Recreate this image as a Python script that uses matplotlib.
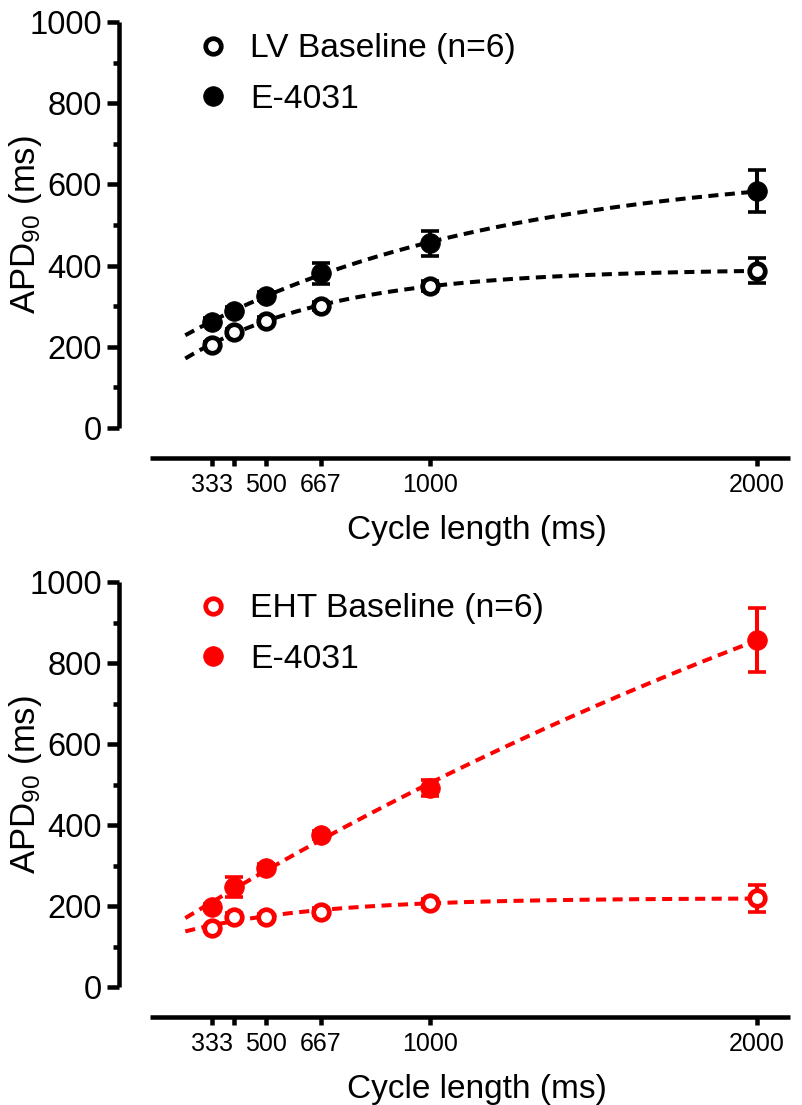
import numpy as np
import matplotlib
matplotlib.use("Agg")
import matplotlib.pyplot as plt
from matplotlib.ticker import FixedLocator, MultipleLocator

plt.rcParams["font.family"] = ["Liberation Sans", "DejaVu Sans"]
plt.rcParams["mathtext.fontset"] = "custom"
plt.rcParams["mathtext.rm"] = "Liberation Sans"
plt.rcParams["mathtext.it"] = "Liberation Sans:italic"

# Pacing cycle lengths (ms)
cycle_length = [333, 400, 500, 667, 1000, 2000]
x_tick_values = [333, 400, 500, 667, 1000, 2000]
x_tick_labels = ["333", "", "500", "667", "1000", "2000"]

# LV tissue: APD90 mean and SEM (ms)
lv_base_mean = [204, 237, 264, 300, 350, 387]
lv_base_sem = [8, 8, 9, 10, 12, 31]
lv_e4031_mean = [262, 289, 325, 381, 455, 583]
lv_e4031_sem = [8, 9, 10, 26, 31, 52]

# EHT: APD90 mean and SEM (ms)
eht_base_mean = [145, 174, 174, 186, 207, 219]
eht_base_sem = [6, 8, 7, 8, 10, 33]
eht_e4031_mean = [198, 246, 293, 375, 492, 857]
eht_e4031_sem = [8, 25, 10, 10, 20, 80]

panels = [
    dict(base=lv_base_mean, base_err=lv_base_sem,
         drug=lv_e4031_mean, drug_err=lv_e4031_sem,
         color="black", base_label="LV Baseline (n=6)", drug_label="E-4031"),
    dict(base=eht_base_mean, base_err=eht_base_sem,
         drug=eht_e4031_mean, drug_err=eht_e4031_sem,
         color="#ff0000", base_label="EHT Baseline (n=6)", drug_label="E-4031"),
]


def exp_association_fit(x, y):
    """Least-squares fit of y = a + b*exp(-k*x); k found by grid search."""
    x = np.asarray(x, float)
    y = np.asarray(y, float)
    best = None
    for k in np.logspace(-5.5, -1.5, 3000):
        e = np.exp(-k * x)
        A = np.column_stack([np.ones_like(x), e])
        coef = np.linalg.lstsq(A, y, rcond=None)[0]
        sse = float(((A @ coef - y) ** 2).sum())
        if best is None or sse < best[0]:
            best = (sse, k, coef)
    _, k, (a, b) = best
    return lambda xx: a + b * np.exp(-k * xx)


W, H, DPI = 802, 1105, 100
fig = plt.figure(figsize=(W / DPI, H / DPI), dpi=DPI)

# axes boxes in pixels: (left, right, top(y=1000), bottom(y=0))
boxes = [(150, 790, 22, 428), (150, 790, 582, 987)]

lw_axis = 3.25
for (l, r, t, b), p in zip(boxes, panels):
    ax = fig.add_axes([l / W, 1 - b / H, (r - l) / W, (b - t) / H])
    col = p["color"]
    x = np.asarray(cycle_length, float)

    xs = np.linspace(252, 2000, 300)
    for key in ("base", "drug"):
        f = exp_association_fit(x, p[key])
        ax.plot(xs, f(xs), color=col, lw=2.9, dashes=(2.5, 1.6), zorder=2)

    ax.errorbar(x, p["drug"], yerr=p["drug_err"], fmt="none", ecolor=col,
                elinewidth=2.9, capsize=6.8, capthick=2.6, zorder=3)
    ax.errorbar(x, p["base"], yerr=p["base_err"], fmt="none", ecolor=col,
                elinewidth=2.9, capsize=6.8, capthick=2.6, zorder=3)

    h_base, = ax.plot(x, p["base"], "o", ms=11.2, mfc="white", mec=col,
                      mew=3.4, zorder=5, label=p["base_label"])
    h_drug, = ax.plot(x, p["drug"], "o", ms=14.2, mfc=col, mec=col,
                      mew=0.5, zorder=5, label=p["drug_label"])

    ax.set_xlim(144, 2102)
    ax.set_ylim(0, 1000)

    for s in ("top", "right"):
        ax.spines[s].set_visible(False)
    ax.spines["left"].set_position(("outward", 22.3))
    ax.spines["bottom"].set_position(("outward", 21.6))
    ax.spines["left"].set_bounds(0, 1000)
    for s in ("left", "bottom"):
        ax.spines[s].set_linewidth(lw_axis)
        ax.spines[s].set_capstyle("butt")

    ax.yaxis.set_major_locator(MultipleLocator(200))
    ax.yaxis.set_minor_locator(MultipleLocator(100))
    ax.tick_params(axis="y", which="major", length=8.5, width=lw_axis,
                   labelsize=23.5, pad=4)
    ax.tick_params(axis="y", which="minor", length=4.5, width=lw_axis)
    ax.xaxis.set_major_locator(FixedLocator(x_tick_values))
    ax.set_xticklabels(x_tick_labels)
    ax.tick_params(axis="x", which="major", length=6, width=lw_axis,
                   labelsize=18, pad=5)

    ax.set_xlabel("Cycle length (ms)", fontsize=24)
    ax.xaxis.set_label_coords((477 - l) / (r - l), -0.215)
    ax.set_ylabel("APD$_{90}$ (ms)", fontsize=25)
    ax.yaxis.set_label_coords((44 - l) / (r - l), 0.5)

    ax.legend(handles=[h_base, h_drug], loc="upper left",
              bbox_to_anchor=(0.072, 0.972), frameon=False, fontsize=24.2,
              handlelength=1.0, handletextpad=0.6, labelspacing=0.58,
              borderpad=0, borderaxespad=0, markerscale=1.0)

fig.savefig("out.png", dpi=DPI)
